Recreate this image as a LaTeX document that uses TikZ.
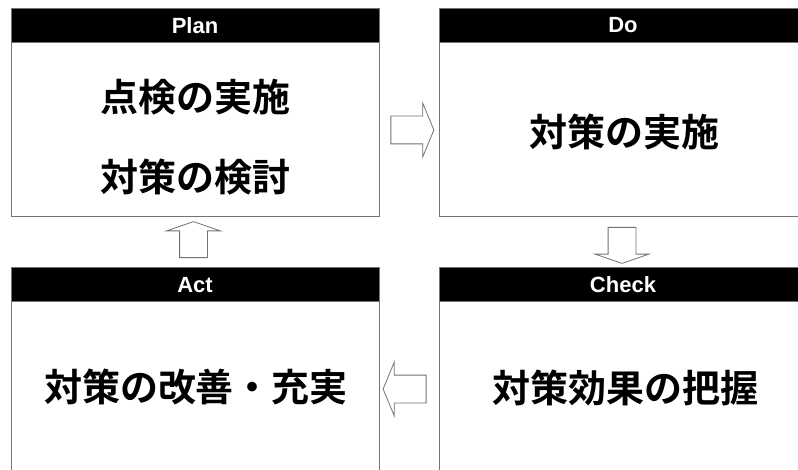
\documentclass[tikz,border=0pt]{standalone}
\usepackage{fontspec}
\setmainfont{Liberation Sans}
\newfontfamily\jpfont{Noto Sans CJK JP}[UprightFont=* Bold]
\usetikzlibrary{shapes.arrows}

\begin{document}
\begin{tikzpicture}[x=1pt, y=-1pt,
    box/.style={draw=black!55, line width=1pt, fill=white, inner sep=0pt,
        minimum width=368pt, minimum height=208pt},
    headbar/.style={draw=black!55, line width=1pt, fill=black, text=white,
        font=\bfseries\fontsize{22}{24}\selectfont, inner sep=0pt,
        minimum width=368pt, minimum height=34pt, anchor=north},
    body/.style={font=\jpfont\fontsize{38}{40}\selectfont, inner sep=0pt},
    blockarrow/.style={single arrow, draw=black!55, line width=0.8pt, fill=white,
        inner xsep=0pt, inner ysep=13.5pt, single arrow head extend=13pt}]
    % Page and clip
    \useasboundingbox (0,0) rectangle (798,470);
    \clip (0,0) rectangle (798,470);
    \fill[white] (0,0) rectangle (798,470);

    % Boxes
    \node[box] (plan) at (195,113) {};
    \node[box] (do) at (623,112.5) {};
    \node[box, minimum height=252pt] (act) at (195,394) {};
    \node[box, minimum height=252pt] (check) at (623,394) {};

    % Header bars
    \node[headbar] (planhead) at (plan.north) {Plan};
    \node[headbar] (dohead) at (do.north) {Do};
    \node[headbar] (acthead) at (act.north) {Act};
    \node[headbar] (checkhead) at (check.north) {Check};

    % Texts
    \node[body] (plantop) at (195,97) {点検の実施};
    \node[body] (planbot) at (195,177) {対策の検討};
    \node[body] (dotext) at (624,132) {対策の実施};
    \node[body] (acttext) at (196,387) {対策の改善・充実};
    \node[body] (checktext) at (625,388) {対策効果の把握};

    % Block arrows (placed between the boxes)
    \node[blockarrow, minimum height=43pt, single arrow tip angle=135] (plantodo) at (409.5,130) {};
    \node[blockarrow, minimum height=36pt, single arrow tip angle=142, rotate=-90] (dotocheck) at (622,243) {};
    \node[blockarrow, minimum height=43pt, single arrow tip angle=135, rotate=180] (checktoact) at (407.5,389) {};
    \node[blockarrow, minimum height=36pt, single arrow tip angle=142, rotate=90] (acttoplan) at (193.5,242) {};
\end{tikzpicture}
\end{document}
